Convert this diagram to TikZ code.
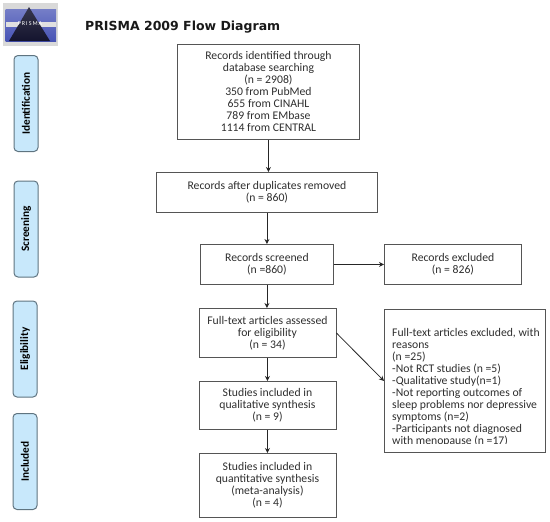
\documentclass[tikz,border=0pt]{standalone}
\usepackage{fontspec}
\setmainfont{Carlito}
\newfontfamily\titlefont{DejaVu Sans}
\usetikzlibrary{positioning,arrows.meta,calc}
\definecolor{boxline}{HTML}{555555}
\definecolor{sidefill}{HTML}{C8E8FB}
\definecolor{sideline}{HTML}{5F7480}
\definecolor{txt}{HTML}{2E2E2E}
\definecolor{logoblue}{HTML}{4753B5}
\definecolor{logodark}{HTML}{14142E}
\newcommand{\flowfont}{\fontsize{11.7}{12}\selectfont}
\tikzset{
  flowbox/.style={draw=boxline,line width=0.9pt,inner sep=0,align=center,text=txt,font=\flowfont,anchor=north west},
  sidebox/.style={draw=sideline,fill=sidefill,line width=1pt,rounded corners=4pt,inner sep=0,anchor=north west,minimum width=24pt,minimum height=96pt},
  sidelab/.style={rotate=90,font=\fontsize{11.3}{12}\selectfont\bfseries,text=black,inner sep=0},
  flowarrow/.style={draw=black!85,line width=0.8pt,-{Stealth[length=5pt,width=5pt]}}
}
\begin{document}
\begin{tikzpicture}[x=1pt,y=-1pt]
    \useasboundingbox (0,0) rectangle (550,522);

    % logo
    \fill[black!15] (3,3) rectangle (58,46);
    \shade[top color=logoblue!75,bottom color=logoblue] (5.5,9) rectangle (56,41);
    \fill[black!12] (5.5,21.5) rectangle (56,27);
    \shade[top color=logodark!85,bottom color=logodark] (29,7) -- (50,41) -- (9,41) -- cycle;
    \node[inner sep=0,text=white,font=\fontsize{6}{6}\selectfont] (logotext) at (30,24) {P\,R\,I\,S\,M\,A};

    % title
    \node[inner sep=0,anchor=west,font=\titlefont\fontsize{12.5}{14}\selectfont\bfseries,text=black!90] (title) at (85,27) {PRISMA 2009 Flow Diagram};

    % side labels
    \foreach \nm/\tx/\xx/\yy in {sideid/Identification/13.5/55,sidescr/Screening/13.5/180.5,sideel/Eligibility/12.5/300.5,sideinc/Included/12.5/413}
    {
        \node[sidebox] (\nm) at (\xx,\yy) {};
        \node[sidelab] (\nm lab) at (\nm.center) {\tx};
    }

    % main column
    \node[flowbox,minimum width=182pt,minimum height=95pt] (records) at (177,44) {Records identified through\\database searching\\(n = 2908)\\350 from PubMed\\655 from CINAHL\\789 from EMbase\\1114 from CENTRAL};
    \node[flowbox,minimum width=221pt,minimum height=40pt] (dups) at (156,172) {Records after duplicates removed\\(n = 860)};
    \node[flowbox,minimum width=133pt,minimum height=40pt] (screened) at (200,244) {Records screened\\(n =860)};
    \node[flowbox,minimum width=137pt,minimum height=49pt] (fulltext) at (198.5,308) {Full-text articles assessed\\for eligibility\\(n = 34)};
    \node[flowbox,minimum width=137pt,minimum height=48pt] (qualit) at (198.5,381) {Studies included in\\qualitative synthesis\\(n = 9)};
    \node[flowbox,minimum width=137pt,minimum height=64pt] (quant) at (198.5,453) {Studies included in\\quantitative synthesis\\(meta-analysis)\\(n = 4)};

    % right column
    \node[flowbox,minimum width=137pt,minimum height=40pt] (excluded) at (384,244) {Records excluded\\(n = 826)};
    \node[flowbox,minimum width=161pt,minimum height=143pt] (fullexcl) at (384,309) {};
    \begin{scope}
        \clip (385,320) rectangle (544,443.5);
        \node[inner sep=0,anchor=north west,align=left,text=txt,font=\flowfont] (fullexcltext) at (392,328) {Full-text articles excluded, with\\reasons\\(n =25)\\-Not RCT studies (n =5)\\-Qualitative study(n=1)\\-Not reporting outcomes of\\sleep problems nor depressive\\symptoms (n=2)\\-Participants not diagnosed\\with menopause (n =17)};
    \end{scope}

    % arrows
    \foreach \a/\b in {records/dups,dups/screened,screened/fulltext,fulltext/qualit,qualit/quant}
    {
        \draw[flowarrow] (\a.south) -- (\a.south |- \b.north);
    }
    \draw[flowarrow] (screened.east) -- (excluded.west);
    \draw[flowarrow] (fulltext.east) -- (fullexcl.west);
\end{tikzpicture}
\end{document}
